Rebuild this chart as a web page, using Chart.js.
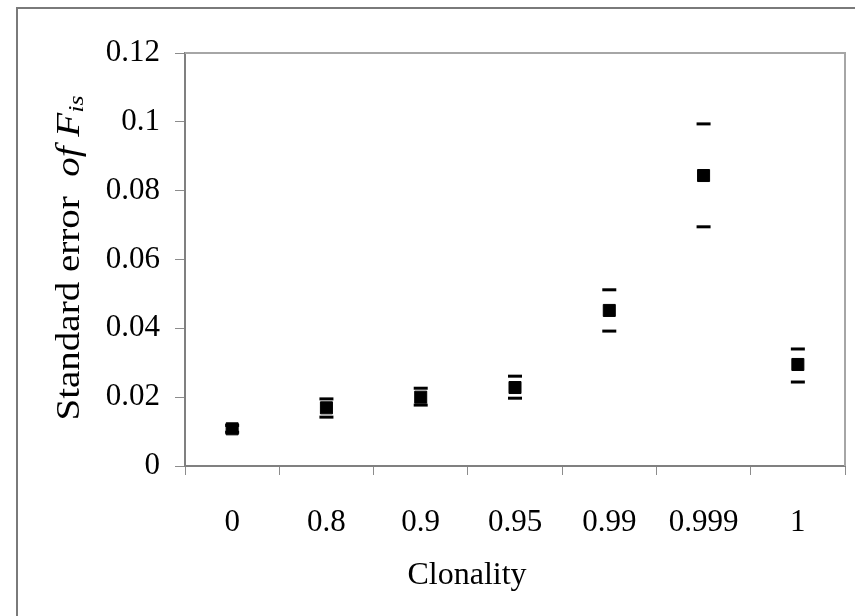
<!DOCTYPE html>
<html>
<head>
<meta charset="utf-8">
<script src="https://cdn.jsdelivr.net/npm/chart.js@4.4.1/dist/chart.umd.min.js"></script>
<style>
  body { margin: 0; background: #fff; }
  #wrap { width: 855px; height: 616px; }
</style>
</head>
<body>
<div id="wrap"><canvas id="chart" width="855" height="616"></canvas></div>
<script>
// Values
const categories = ['0', '0.8', '0.9', '0.95', '0.99', '0.999', '1'];
const meanSE = [0.0108, 0.0169, 0.0200, 0.0228, 0.0452, 0.0844, 0.0295];
const upperSE = [0.0118, 0.0195, 0.0226, 0.0261, 0.0512, 0.0994, 0.0340];
const lowerSE = [0.0098, 0.0142, 0.0177, 0.0197, 0.0392, 0.0695, 0.0244];
const yTickLabels = ['0', '0.02', '0.04', '0.06', '0.08', '0.1', '0.12'];

const FONT = 'Liberation Serif, Times New Roman, serif';

// Frames and axis titles
const decorPlugin = {
  id: 'decor',
  beforeDraw(chart) {
    const ctx = chart.ctx;
    ctx.save();
    ctx.fillStyle = '#fff';
    ctx.fillRect(0, 0, chart.width, chart.height);
    ctx.restore();
  },
  afterDraw(chart) {
    const ctx = chart.ctx;
    const a = chart.chartArea;
    ctx.save();

    // outer border (only left and top fall inside the picture)
    ctx.strokeStyle = '#7a7a7a';
    ctx.lineWidth = 2;
    ctx.beginPath();
    ctx.moveTo(17, chart.height);
    ctx.lineTo(17, 8);
    ctx.lineTo(chart.width, 8);
    ctx.stroke();

    // plot frame top and right
    ctx.strokeStyle = '#a6a6a6';
    ctx.lineWidth = 2;
    ctx.beginPath();
    ctx.moveTo(a.left, a.top);
    ctx.lineTo(a.right, a.top);
    ctx.lineTo(a.right, a.bottom);
    ctx.stroke();

    ctx.fillStyle = '#000';

    // x title
    ctx.font = '32px ' + FONT;
    ctx.textAlign = 'center';
    ctx.textBaseline = 'middle';
    ctx.fillText('Clonality', 467, 576);

    // y title with italic part and subscript, stretched along its length
    const parts = [
      { t: 'Standard error  ', f: '33px ' + FONT, dy: 0 },
      { t: 'of F', f: 'italic 33px ' + FONT, dy: 0 },
      { t: 'is', f: 'italic 22px ' + FONT, dy: 7 }
    ];
    let total = 0;
    parts.forEach(p => { ctx.font = p.f; p.w = ctx.measureText(p.t).width; total += p.w; });
    ctx.translate(70, 258);
    ctx.rotate(-Math.PI / 2);
    ctx.scale(325 / total, 1);
    ctx.textAlign = 'left';
    let x = -total / 2;
    parts.forEach(p => {
      ctx.font = p.f;
      ctx.fillText(p.t, x, p.dy);
      x += p.w;
    });
    ctx.restore();
  }
};

new Chart(document.getElementById('chart').getContext('2d'), {
  type: 'line',
  data: {
    labels: categories,
    datasets: [
      {
        label: 'upper',
        data: upperSE,
        showLine: false,
        pointStyle: 'line',
        pointRadius: 7,
        pointBorderWidth: 3,
        borderColor: '#000',
        backgroundColor: '#000'
      },
      {
        label: 'lower',
        data: lowerSE,
        showLine: false,
        pointStyle: 'line',
        pointRadius: 7,
        pointBorderWidth: 3,
        borderColor: '#000',
        backgroundColor: '#000'
      },
      {
        label: 'mean',
        data: meanSE,
        showLine: false,
        pointStyle: 'rect',
        pointRadius: 8.5,
        pointBorderWidth: 1,
        borderColor: '#000',
        backgroundColor: '#000'
      }
    ]
  },
  options: {
    responsive: false,
    animation: false,
    events: [],
    layout: { padding: { left: 0, top: 53, right: 8, bottom: 0 } },
    plugins: {
      legend: { display: false },
      tooltip: { enabled: false }
    },
    scales: {
      x: {
        type: 'category',
        offset: true,
        afterFit(scale) { scale.height = 150; },
        grid: {
          offset: true,
          drawOnChartArea: false,
          tickLength: 9,
          tickWidth: 1,
          color: '#8c8c8c'
        },
        border: { color: '#808080', width: 2 },
        ticks: {
          color: '#000',
          padding: 29,
          maxRotation: 0,
          autoSkip: false,
          font: { family: FONT, size: 31 }
        }
      },
      y: {
        min: 0,
        max: 0.12,
        afterFit(scale) { scale.width = 185; },
        grid: {
          drawOnChartArea: false,
          tickLength: 10,
          tickWidth: 1,
          color: '#8c8c8c'
        },
        border: { color: '#808080', width: 2 },
        ticks: {
          stepSize: 0.01,
          color: '#000',
          padding: 15,
          font: { family: FONT, size: 31 },
          callback: (value, index) => (index % 2 === 0 ? yTickLabels[index / 2] : '')
        }
      }
    }
  },
  plugins: [decorPlugin]
});
</script>
</body>
</html>
